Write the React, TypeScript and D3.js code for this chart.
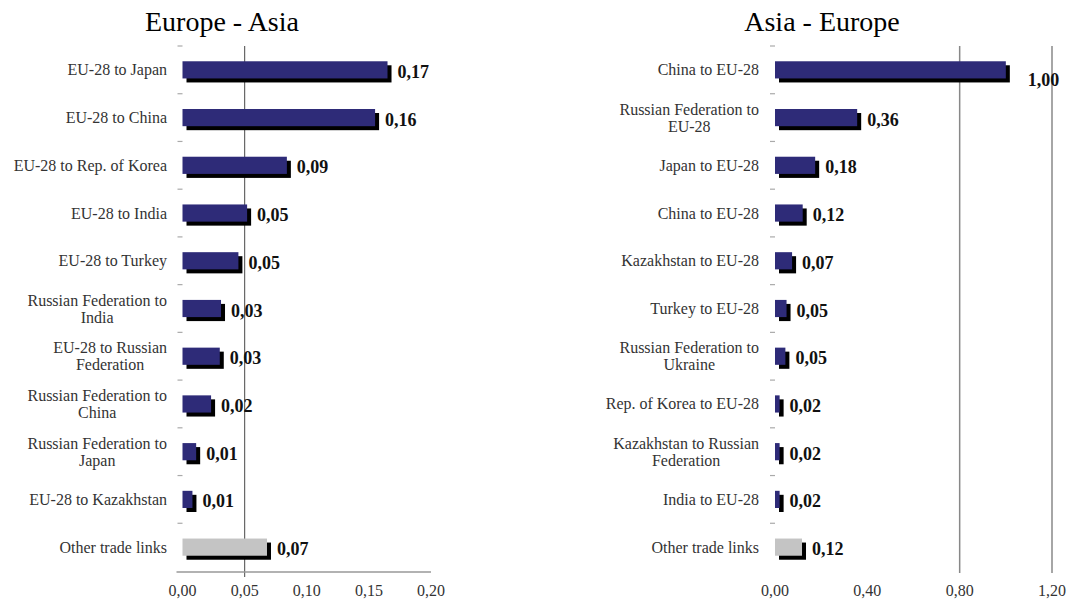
import React, { useEffect, useRef } from "react";
import * as d3 from "d3";

const leftCategories = [
  "EU-28 to Japan",
  "EU-28 to China",
  "EU-28 to Rep. of Korea",
  "EU-28 to India",
  "EU-28 to Turkey",
  "Russian Federation to\nIndia",
  "EU-28 to Russian\nFederation",
  "Russian Federation to\nChina",
  "Russian Federation to\nJapan",
  "EU-28 to Kazakhstan",
  "Other trade links",
];
const leftValues = [0.165, 0.155, 0.084, 0.052, 0.045, 0.031, 0.03, 0.023, 0.011, 0.008, 0.068];
const leftValueLabels = ["0,17", "0,16", "0,09", "0,05", "0,05", "0,03", "0,03", "0,02", "0,01", "0,01", "0,07"];
const leftTicks = [0, 0.05, 0.1, 0.15, 0.2];
const leftRefLines = [0.05];

const rightCategories = [
  "China to EU-28",
  "Russian Federation to\nEU-28",
  "Japan to EU-28",
  "China to EU-28",
  "Kazakhstan to EU-28",
  "Turkey to EU-28",
  "Russian Federation to\nUkraine",
  "Rep. of Korea to EU-28",
  "Kazakhstan to Russian\nFederation",
  "India to EU-28",
  "Other trade links",
];
const rightValues = [1.0, 0.356, 0.174, 0.12, 0.074, 0.05, 0.045, 0.02, 0.02, 0.02, 0.117];
const rightValueLabels = ["1,00", "0,36", "0,18", "0,12", "0,07", "0,05", "0,05", "0,02", "0,02", "0,02", "0,12"];
const rightTicks = [0, 0.4, 0.8, 1.2];
const rightRefLines = [0.8, 1.2];

const titles = ["Europe - Asia", "Asia - Europe"];

const BLUE = "#2e2b78";
const GREY = "#c4c4c4";
const FONT = "'Liberation Serif', 'Times New Roman', serif";

type Panel = {
  cats: string[];
  vals: number[];
  labs: string[];
  ticks: number[];
  refs: number[];
  domain: [number, number];
  x0: number;
  x1: number;
  labelRight: number;
  title: string;
  titleX: number;
  axisLine: boolean;
  refColor: string;
  refWidth: number;
};

export default function App() {
  const ref = useRef<SVGSVGElement | null>(null);

  useEffect(() => {
    const svg = d3.select(ref.current);
    svg.selectAll("*").remove();

    const panels: Panel[] = [
      {
        cats: leftCategories, vals: leftValues, labs: leftValueLabels, ticks: leftTicks,
        refs: leftRefLines, domain: [0, 0.2], x0: 182.5, x1: 431, labelRight: 167,
        title: titles[0], titleX: 222, axisLine: true, refColor: "#666", refWidth: 1.2,
      },
      {
        cats: rightCategories, vals: rightValues, labs: rightValueLabels, ticks: rightTicks,
        refs: rightRefLines, domain: [0, 1.2], x0: 775, x1: 1052, labelRight: 759,
        title: titles[1], titleX: 822, axisLine: false, refColor: "#888", refWidth: 1.5,
      },
    ];

    const yTop = 46;
    const yBot = 571;
    const catSize = 16;

    panels.forEach((p, pi) => {
      const g = svg.append("g");
      const x = d3.scaleLinear().domain(p.domain).range([p.x0, p.x1]);
      const idx = p.cats.map((_, i) => String(i));
      const y = d3.scaleBand<string>().domain(idx).range([yTop, yBot]).paddingInner(0.64).paddingOuter(0.32);
      const step = y.step();
      const bw = y.bandwidth();

      g.append("text")
        .attr("x", p.titleX).attr("y", 31)
        .attr("text-anchor", "middle")
        .attr("font-family", FONT).attr("font-size", 28).attr("fill", "#000")
        .text(p.title);

      for (let i = 0; i < p.cats.length; i++) {
        const yy = yTop + i * step;
        g.append("line")
          .attr("x1", p.x0 - 5).attr("x2", p.x0)
          .attr("y1", yy).attr("y2", yy)
          .attr("stroke", "#aaa").attr("stroke-width", 1.2);
      }

      p.refs.forEach((r) => {
        g.append("line")
          .attr("x1", x(r)).attr("x2", x(r))
          .attr("y1", yTop).attr("y2", pi === 0 ? 577 : 573)
          .attr("stroke", p.refColor).attr("stroke-width", p.refWidth);
      });

      if (p.axisLine) {
        g.append("line")
          .attr("x1", p.x0 - 6).attr("x2", p.x1)
          .attr("y1", 572).attr("y2", 572)
          .attr("stroke", "#999").attr("stroke-width", 1.5);
      }

      g.selectAll("text.tick")
        .data(p.ticks)
        .enter()
        .append("text")
        .attr("class", "tick")
        .attr("x", (d) => x(d))
        .attr("y", 596)
        .attr("text-anchor", "middle")
        .attr("font-family", FONT).attr("font-size", 16).attr("fill", "#333")
        .text((d) => d3.format(".2f")(d).replace(".", ","));

      g.selectAll("rect.shadow")
        .data(p.vals)
        .enter()
        .append("rect")
        .attr("class", "shadow")
        .attr("x", x(0) + 4)
        .attr("y", (_, i) => (y(String(i)) as number) + 4)
        .attr("width", (d) => x(d) - x(0))
        .attr("height", bw)
        .attr("fill", "#000");

      g.selectAll("rect.bar")
        .data(p.vals)
        .enter()
        .append("rect")
        .attr("class", "bar")
        .attr("x", x(0))
        .attr("y", (_, i) => y(String(i)) as number)
        .attr("width", (d) => x(d) - x(0))
        .attr("height", bw)
        .attr("fill", (_, i) => (i === p.vals.length - 1 ? GREY : BLUE));

      p.vals.forEach((v, i) => {
        const cy = (y(String(i)) as number) + bw / 2;
        const special = pi === 1 && i === 0;
        g.append("text")
          .attr("x", x(v) + (special ? 22 : 10))
          .attr("y", cy + (special ? 10 : 2))
          .attr("dominant-baseline", "central")
          .attr("font-family", FONT).attr("font-size", 18).attr("font-weight", "bold")
          .attr("fill", "#111")
          .text(p.labs[i]);
      });

      p.cats.forEach((c, i) => {
        const cy = (y(String(i)) as number) + bw / 2;
        const lines = c.split("\n");
        const t = g.append("text")
          .attr("font-family", FONT).attr("font-size", catSize).attr("fill", "#333");
        if (lines.length === 1) {
          t.attr("x", p.labelRight).attr("y", cy).attr("text-anchor", "end")
            .attr("dominant-baseline", "central").text(c);
        } else {
          const tmp = g.append("text").attr("font-family", FONT).attr("font-size", catSize).text(lines[0]);
          const w = (tmp.node() as SVGTextElement).getComputedTextLength();
          tmp.remove();
          const cx = p.labelRight - w / 2;
          const lh = 17;
          lines.forEach((ln, k) => {
            t.append("tspan")
              .attr("x", cx)
              .attr("y", cy + (k - (lines.length - 1) / 2) * lh)
              .attr("text-anchor", "middle")
              .attr("dominant-baseline", "central")
              .text(ln);
          });
        }
      });
    });
  }, []);

  return (
    <svg
      ref={ref}
      width={1076}
      height={601}
      style={{ position: "absolute", left: 0, top: 0, background: "#fff" }}
    />
  );
}
